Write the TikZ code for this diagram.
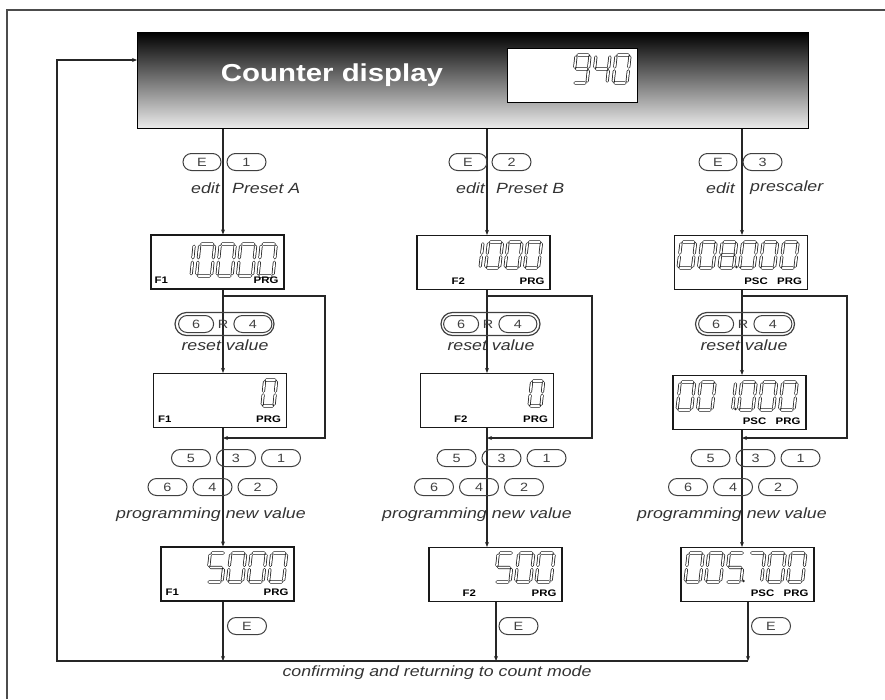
\documentclass[tikz,border=0pt]{standalone}
\usepackage{fontspec}
\setmainfont{Liberation Sans}[FakeStretch=1.2]
\usetikzlibrary{arrows.meta,positioning}

% seven segment digits
\tikzset{
  seg a/.style={insert path={(0.13,1)--(0.87,1)}},
  seg b/.style={insert path={(1,0.93)--(1,0.57)}},
  seg c/.style={insert path={(1,0.43)--(1,0.07)}},
  seg d/.style={insert path={(0.13,0)--(0.87,0)}},
  seg e/.style={insert path={(0,0.43)--(0,0.07)}},
  seg f/.style={insert path={(0,0.93)--(0,0.57)}},
  seg g/.style={insert path={(0.13,0.5)--(0.87,0.5)}},
  dig 0/.style={seg a,seg b,seg c,seg d,seg e,seg f},
  dig 1/.style={seg b,seg c},
  dig 2/.style={seg a,seg b,seg g,seg e,seg d},
  dig 3/.style={seg a,seg b,seg g,seg c,seg d},
  dig 4/.style={seg f,seg g,seg b,seg c},
  dig 5/.style={seg a,seg f,seg g,seg c,seg d},
  dig 7/.style={seg a,seg b,seg c},
  dig 8/.style={seg a,seg b,seg c,seg d,seg e,seg f,seg g},
  dig 9/.style={seg a,seg b,seg c,seg d,seg f,seg g},
}
% #1 left bottom, #2 pitch, #3 width, #4 height, #5 digits
\newcommand{\lcdnum}[5]{%
  \foreach \d [count=\i from 0] in {#5}{
    \begin{scope}[shift={#1}, x=1pt, y=1pt, shift={(\i*#2,0)}, xscale=#3, yscale=#4, xslant=0.22]
      \path[lcdseg, dig \d];
    \end{scope}}}

\begin{document}
\begin{tikzpicture}[x=1pt, y=-1pt,
  line/.style={draw=black!85, line width=1.1pt},
  frame/.style={draw=black!70, line width=1.3pt},
  disp/.style={draw=black, line width=1pt, top color=black, bottom color=black!8, minimum width=671pt, minimum height=96pt, inner sep=0pt},
  lcd/.style={draw=black!90, line width=1.2pt, minimum width=133pt, minimum height=54pt, inner sep=0pt},
  key/.style={draw=black!75, line width=1pt, rounded corners=8.5pt, minimum width=39pt, minimum height=17pt, inner sep=0pt, font=\fontsize{12}{14}\selectfont, text=black!75},
  keyout/.style={draw=black!75, line width=1.2pt, rounded corners=11.5pt, minimum width=99pt, minimum height=23pt, inner sep=0pt},
  lbl/.style={font=\fontsize{14.8}{17}\selectfont\itshape, text=black!80, inner sep=0pt},
  tag/.style={font=\fontsize{9.5}{11}\selectfont\bfseries, inner sep=0pt},
  lcdseg/.style={draw=black!90, double=white, double distance=1.6pt, line width=0.75pt, line cap=round},
  >={Stealth[length=5pt,width=4pt]}]
  \useasboundingbox (0,0) rectangle (885,699);
  \draw[frame] (7,699) -- (7,10) -- (885,10);

  % counter display
  \node[disp] (disp) at (472.5,80) {};
  \node[font=\fontsize{24.5}{28}\selectfont\bfseries, text=white, anchor=base] (ttl) at (332,81) {Counter display};
  \node[draw=black, line width=1pt, fill=white, minimum width=130pt, minimum height=54pt] (cnt) at (572,75) {};
  \lcdnum{(573,83)}{20}{14}{28}{9,4,0}

  % columns
  \coordinate (c1) at (223,0);
  \coordinate (c2) at (487,0);
  \coordinate (c3) at (742,0);
  \coordinate (entry) at (137,60);
  \coordinate (retc) at (57,661);
  \coordinate (ret1) at (223,661);
  \coordinate (ret2) at (496,661);
  \coordinate (ret3) at (748,661);

  % displays
  \node[lcd] (b1a) at (217.5,262) {};
  \node[lcd] (b2a) at (220,400.5) {};
  \node[lcd] (b3a) at (227.5,574) {};
  \node[lcd] (b1b) at (483.5,262.5) {};
  \node[lcd] (b2b) at (487,400.5) {};
  \node[lcd] (b3b) at (495.5,574.5) {};
  \node[lcd] (b1c) at (741,262.5) {};
  \node[lcd] (b2c) at (739.5,402.5) {};
  \node[lcd] (b3c) at (747.5,574.5) {};

  \lcdnum{(176,276)}{20.5}{15}{32}{1,0,0,0,0}
  \lcdnum{(262,406)}{20}{12}{26}{0}
  \lcdnum{(207,582)}{20.5}{15}{29}{5,0,0,0}
  \lcdnum{(466,268)}{19.5}{14}{26}{1,0,0,0}
  \lcdnum{(529,406)}{20}{12}{25}{0}
  \lcdnum{(495,582)}{20.5}{15}{29}{5,0,0}
  \lcdnum{(678,268)}{20.5}{14.5}{26}{0,0,8,0,0,0}
  \lcdnum{(677,410)}{20.5}{14.5}{28}{0,0,1,0,0,0}
  \lcdnum{(685,582)}{20.5}{15}{29}{0,0,5,7,0,0}
  \fill[black!85] (736.5,267) circle (1.4);
  \fill[black!85] (735.5,409) circle (1.4);
  \fill[black!85] (743.5,581) circle (1.4);

  % tags
  \node[tag, anchor=west] (f1a) at ([shift={(4,-9)}]b1a.south west) {F1};
  \node[tag, anchor=west] (f2a) at ([shift={(5,-9)}]b2a.south west) {F1};
  \node[tag, anchor=west] (f3a) at ([shift={(5,-9)}]b3a.south west) {F1};
  \node[tag, anchor=west] (f1b) at ([shift={(35,-9)}]b1b.south west) {F2};
  \node[tag, anchor=west] (f2b) at ([shift={(34,-9)}]b2b.south west) {F2};
  \node[tag, anchor=west] (f3b) at ([shift={(34,-9)}]b3b.south west) {F2};
  \foreach \b in {b1a,b2a,b3a,b1b,b2b,b3b,b1c,b2c,b3c}{
    \node[tag, anchor=east] (pg\b) at ([shift={(-6,-9)}]\b.south east) {PRG};}
  \node[tag, left=9pt of pgb1c] (psb1c) {PSC};
  \node[tag, left=9pt of pgb2c] (psb2c) {PSC};
  \node[tag, left=9pt of pgb3c] (psb3c) {PSC};

  % column lines
  \foreach \c/\s in {c1/a,c2/b,c3/c}{
    \draw[line,->] (disp.south -| \c) -- (b1\s.north -| \c);
    \draw[line,->] (b1\s.south -| \c) -- (b2\s.north -| \c);
    \draw[line,->] (b2\s.south -| \c) -- (b3\s.north -| \c);
  }
  \draw[line,->] (b3a.south -| ret1) -- (ret1);
  \draw[line,->] (b3b.south -| ret2) -- (ret2);
  \draw[line,->] (b3c.south -| ret3) -- (ret3);
  % reset branches
  \draw[line,->] (223,296) -- ++(102,0) |- (223,438);
  \draw[line,->] (487,296) -- ++(105,0) |- (487,438);
  \draw[line,->] (742,296) -- ++(105,0) |- (742,438);
  % return to count mode
  \draw[line,->] (ret3) -- (retc) |- (entry);
  \node[lbl] (cfm) at (437,673) {confirming and returning to count mode};

  % column 1: Preset A
  \node[key, minimum width=38pt] (ke1a) at (202,162) {E};
  \node[key, right=5pt of ke1a] (kn1a) {1};
  \node[lbl, anchor=east] (eda) at (220,188) {edit};
  \node[lbl, anchor=west] (psa) at (232,188) {Preset A};
  \node[keyout] (rsa) at (224.5,324) {};
  \node[font=\fontsize{12}{14}\selectfont, text=black!75, inner sep=1pt] (rra) at (223,324) {R};
  \node[key, minimum width=35pt, left=2.5pt of rra] (r6a) {6};
  \node[key, minimum width=38pt, right=4pt of rra] (r4a) {4};
  \node[lbl] (rva) at (225,345) {reset value};
  \node[key] (k5a) at (191,458) {5};
  \node[key, right=5pt of k5a] (k3a) {3};
  \node[key, right=5pt of k3a] (k1a) {1};
  \node[key] (k6a) at (167.5,487) {6};
  \node[key, right=5pt of k6a] (k4a) {4};
  \node[key, right=5pt of k4a] (k2a) {2};
  \node[lbl] (pna) at (211,515) {programming new value};
  \node[key] (kea) at (247,626) {E};

  % column 2: Preset B
  \node[key, minimum width=38pt] (ke1b) at (468,162) {E};
  \node[key, right=4pt of ke1b] (kn1b) {2};
  \node[lbl, anchor=east] (edb) at (485,188) {edit};
  \node[lbl, anchor=west] (psb) at (496,188) {Preset B};
  \node[keyout] (rsb) at (490.5,324) {};
  \node[font=\fontsize{12}{14}\selectfont, text=black!75, inner sep=1pt] (rrb) at (488,324) {R};
  \node[key, minimum width=35pt, left=2.5pt of rrb] (r6b) {6};
  \node[key, minimum width=38pt, right=4pt of rrb] (r4b) {4};
  \node[lbl] (rvb) at (491,345) {reset value};
  \node[key] (k5b) at (456.5,458) {5};
  \node[key, right=5pt of k5b] (k3b) {3};
  \node[key, right=5pt of k3b] (k1b) {1};
  \node[key] (k6b) at (434,487) {6};
  \node[key, right=5pt of k6b] (k4b) {4};
  \node[key, right=5pt of k4b] (k2b) {2};
  \node[lbl] (pnb) at (477,515) {programming new value};
  \node[key] (keb) at (518.5,626) {E};

  % column 3: prescaler
  \node[key, minimum width=38pt] (ke1c) at (718,162) {E};
  \node[key, right=5pt of ke1c] (kn1c) {3};
  \node[lbl, anchor=east] (edc) at (735,188) {edit};
  \node[lbl, anchor=west] (psc) at (750,188) {prescaler};
  \node[keyout] (rsc) at (745,324) {};
  \node[font=\fontsize{12}{14}\selectfont, text=black!75, inner sep=1pt] (rrc) at (743,324) {R};
  \node[key, minimum width=35pt, left=2.5pt of rrc] (r6c) {6};
  \node[key, minimum width=38pt, right=4pt of rrc] (r4c) {4};
  \node[lbl] (rvc) at (744,345) {reset value};
  \node[key] (k5c) at (710.5,458) {5};
  \node[key, right=5pt of k5c] (k3c) {3};
  \node[key, right=5pt of k3c] (k1c) {1};
  \node[key] (k6c) at (688,487) {6};
  \node[key, right=5pt of k6c] (k4c) {4};
  \node[key, right=5pt of k4c] (k2c) {2};
  \node[lbl] (pnc) at (732,515) {programming new value};
  \node[key] (kec) at (771,626) {E};
\end{tikzpicture}
\end{document}
